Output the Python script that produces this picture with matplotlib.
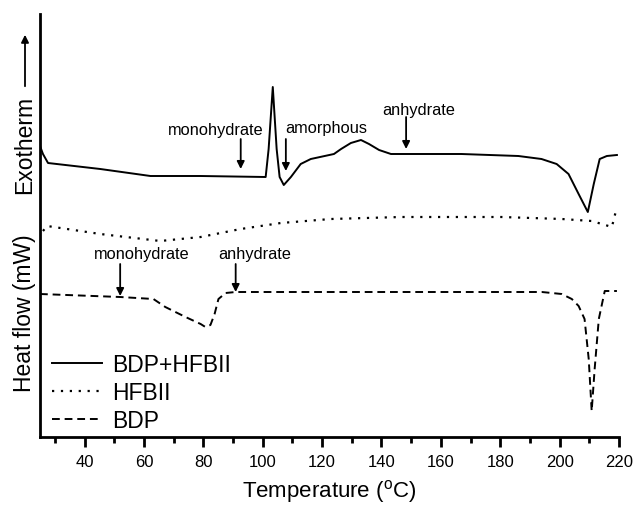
import matplotlib
matplotlib.use('Agg')
import matplotlib.pyplot as plt

plt.rcParams['font.family'] = ['Liberation Sans', 'DejaVu Sans']

# Значения (ось y в условных единицах)
t_mix = [25.0, 26.0, 27.7, 45.3, 62.2, 79.1, 101.0, 102.0, 103.4, 104.7, 105.7, 107.1,
         109.5, 112.8, 116.2, 124.0, 126.4, 129.7, 133.1, 135.8, 139.2, 143.2, 166.9,
         186.1, 193.9, 199.0, 203.0, 206.4, 209.5, 211.5, 213.5, 215.9, 219.3]
q_mix = [291, 283, 274, 268, 261, 261, 260, 288, 350, 288, 260, 252,
         260, 273, 278, 283, 288, 294, 297, 293, 287, 283, 283,
         281, 278, 273, 263, 243, 225, 253, 278, 281, 282]

t_hfb = [26.0, 27.4, 45.3, 65.5, 79.1, 92.6, 106.1, 123.0, 146.6, 180.4, 200.7, 210.8, 217.6, 219.3]
q_hfb = [206, 211, 203, 196, 200, 208, 214, 218, 220, 220, 218, 216, 210, 230]

t_bdp = [25.0, 52.0, 63.2, 67.2, 74.0, 79.1, 80.7, 82.4, 83.8, 85.1, 87.5, 90.9, 153.4,
         194.0, 200.7, 204.1, 206.4, 208.4, 209.8, 210.8, 211.8, 213.2, 215.2, 219.3]
q_bdp = [143, 140, 138, 130, 120, 113, 110, 112, 123, 138, 144, 145, 145,
         145, 143, 138, 131, 118, 78, 26, 68, 118, 146, 146]

labels = ["BDP+HFBII", "HFBII", "BDP"]

# подписи: текст, x стрелки, y острия, y хвоста, x текста, y текста
notes = [("monohydrate", 92.6, 268, 298, 84.1, 308),
         ("amorphous", 107.8, 266, 298, 121.3, 310),
         ("anhydrate", 148.3, 288, 320, 152.4, 328),
         ("monohydrate", 52.0, 141, 173, 59.1, 183),
         ("anhydrate", 90.9, 145, 173, 97.3, 183)]

fig = plt.figure(figsize=(6.35, 5.06), dpi=100)
ax = fig.add_axes([40 / 635, 68 / 506, 579 / 635, 423 / 506])

ax.plot(t_mix, q_mix, '-', color='black', lw=1.4, label=labels[0])
ax.plot(t_hfb, q_hfb, linestyle=(0, (1, 3)), color='black', lw=1.6, label=labels[1])
ax.plot(t_bdp, q_bdp, linestyle=(0, (4, 2.5)), color='black', lw=1.4, label=labels[2])

for txt, xa, ytip, ytail, xt, yt in notes:
    ax.annotate('', xy=(xa, ytip), xytext=(xa, ytail),
                arrowprops=dict(arrowstyle='-|>', color='black', lw=1.3, mutation_scale=11,
                                shrinkA=0, shrinkB=0))
    ax.text(xt, yt, txt, ha='center', va='center', fontsize=11.8)

ax.set_xlim(25, 220)
ax.set_ylim(0, 423)
ax.set_xticks(range(40, 221, 20))
ax.set_xticks(range(30, 221, 20), minor=True)
ax.set_yticks([])
ax.tick_params(axis='x', which='major', direction='out', length=7, width=2, labelsize=12, pad=5)
ax.tick_params(axis='x', which='minor', direction='out', length=4, width=2)
for s in ['top', 'right']:
    ax.spines[s].set_visible(False)
for s in ['left', 'bottom']:
    ax.spines[s].set_linewidth(2)

ax.set_xlabel('Temperature ($\\mathregular{^{o}}$C)', fontsize=16, labelpad=6)

fig.text(25 / 635, 1 - 313 / 506, 'Heat flow (mW)', rotation=90, ha='center', va='center', fontsize=16.5)
fig.text(25 / 635, 1 - 145 / 506, 'Exotherm', rotation=90, ha='center', va='center', fontsize=16.5)
fig.add_artist(matplotlib.patches.FancyArrowPatch((25 / 635, 1 - 90 / 506), (25 / 635, 1 - 33 / 506),
                                                  transform=fig.transFigure, arrowstyle='-|>',
                                                  mutation_scale=11, lw=1.3, color='black'))

ax.legend(loc='lower left', bbox_to_anchor=(0.02, 0.012), frameon=False, fontsize=16.5,
          handlelength=2.2, handletextpad=0.45, labelspacing=0.22, borderaxespad=0, borderpad=0)

fig.savefig('out.png', dpi=100)
